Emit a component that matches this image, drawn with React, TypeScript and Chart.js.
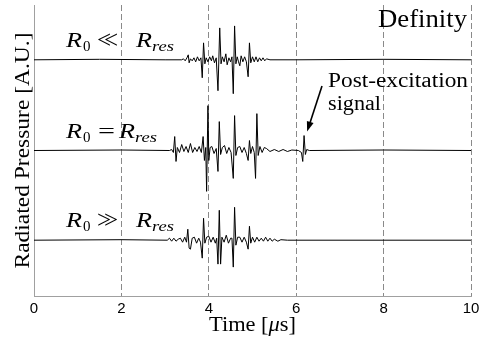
import React, { useEffect, useRef } from "react";
import { Chart, registerables } from "chart.js";
Chart.register(...registerables);

// ---- data ----
const xTickValues = [0, 2, 4, 6, 8, 10];
const traceLabels = ["<<", "=", ">>"];
const traceOffsets = [91, 0, -90];

const trace1Time = [0, 1.5, 3.0, 3.38, 3.42, 3.46, 3.50, 3.53, 3.55, 3.58, 3.62, 3.66, 3.70, 3.74, 3.78, 3.82, 3.85, 3.88, 3.91, 3.94, 3.98, 4.02, 4.06, 4.09, 4.13, 4.17, 4.21, 4.25, 4.28, 4.31, 4.35, 4.39, 4.42, 4.46, 4.50, 4.53, 4.56, 4.59, 4.62, 4.65, 4.68, 4.71, 4.74, 4.78, 4.82, 4.86, 4.90, 4.93, 4.96, 5.00, 5.04, 5.08, 5.12, 5.16, 5.20, 5.24, 5.28, 5.32, 5.40, 6.0, 8.0, 10];
const trace1Amp = [0, 0.5, 0, 0, 1, -1, 2, 5, -3, 1, -1, 2, -2, 3, -1, 2, -18, 17, -4, 2, -2, 3, -1, 4, -3, 2, -31, 32, -4, 3, -2, 6, -5, 2, -2, 3, -34, 34, -4, 3, -2, -6, 4, -2, 3, -2, -17, 17, -3, 3, -2, 3, -2, 2, -1, 2, -1, 1, 0, 0, 0.5, 0];

const trace2Time = [0, 2.0, 3.10, 3.15, 3.19, 3.22, 3.25, 3.28, 3.33, 3.38, 3.43, 3.48, 3.53, 3.58, 3.63, 3.68, 3.73, 3.78, 3.83, 3.87, 3.90, 3.93, 3.95, 3.98, 4.00, 4.03, 4.07, 4.12, 4.17, 4.21, 4.24, 4.27, 4.31, 4.36, 4.41, 4.46, 4.51, 4.56, 4.59, 4.62, 4.66, 4.71, 4.76, 4.81, 4.86, 4.90, 4.93, 4.96, 5.00, 5.04, 5.07, 5.10, 5.13, 5.17, 5.22, 5.27, 5.32, 5.40, 5.50, 5.60, 5.70, 5.80, 5.90, 6.05, 6.12, 6.15, 6.18, 6.21, 6.24, 6.30, 8.0, 10];
const trace2Amp = [0, 0.5, 0, 1, -2, 14, -11, 3, -2, 6, -1, 4, -2, 7, -2, 3, -1, 4, -2, 14, -10, 3, -41, 45, -10, 3, 4, -3, 2, -21, 29, -4, 3, 5, -3, 3, -2, -28, 35, -5, 3, 4, -2, 3, -3, -10, 10, -3, 4, -2, -28, 37, -5, 4, -2, 3, 2, -1, 1, -1, 1, -1, 0.5, 0, -2, -11, 15, -4, 1, 0, 0.5, 0];

const trace3Time = [0, 2.0, 3.05, 3.10, 3.15, 3.20, 3.25, 3.30, 3.35, 3.40, 3.45, 3.49, 3.52, 3.55, 3.58, 3.62, 3.67, 3.72, 3.77, 3.81, 3.85, 3.88, 3.91, 3.95, 4.00, 4.05, 4.10, 4.15, 4.18, 4.21, 4.24, 4.27, 4.30, 4.35, 4.40, 4.45, 4.50, 4.53, 4.56, 4.59, 4.62, 4.66, 4.71, 4.76, 4.81, 4.86, 4.90, 4.93, 4.96, 5.00, 5.05, 5.10, 5.15, 5.20, 5.25, 5.30, 5.35, 5.40, 5.45, 5.50, 5.58, 5.65, 5.80, 10];
const trace3Amp = [0, 0.5, 0, 2, -1, 2, -1, 1, 2, -2, 3, -2, 11, -8, -9, 2, 3, -3, 2, -2, -18, 22, -3, 3, 4, -2, 3, -3, 2, -24, 30, -24, 3, -2, 5, -3, 2, 2, -27, 33, -5, 3, 3, -2, 3, -2, -9, 14, -3, 3, -2, 3, -1, 2, -1, 3, -1, 2, -1, 1, -1, 0.5, 0, 0];

const traceTimes = [trace1Time, trace2Time, trace3Time];
const traceAmps = [trace1Amp, trace2Amp, trace3Amp];

const SERIF = '"Liberation Serif", "Times New Roman", serif';

function fitText(ctx: CanvasRenderingContext2D, text: string, x: number, y: number, width?: number) {
  if (!width) { ctx.fillText(text, x, y); return; }
  const w = ctx.measureText(text).width;
  ctx.save();
  ctx.translate(x, y);
  ctx.scale(width / w, 1);
  ctx.fillText(text, 0, 0);
  ctx.restore();
}

const annotPlugin = {
  id: "annot",
  afterDraw(chart: any) {
    const ctx: CanvasRenderingContext2D = chart.ctx;
    const xs = chart.scales.x;
    const ys = chart.scales.y;
    const area = chart.chartArea;
    ctx.save();
    ctx.fillStyle = "#000";
    ctx.textAlign = "left";
    ctx.textBaseline = "alphabetic";

    // Trace labels
    traceLabels.forEach((rel, i) => {
      const x0 = xs.getPixelForValue(0.73);
      const yb = ys.getPixelForValue(traceOffsets[i]) - 13;
      ctx.font = `italic 22px ${SERIF}`;
      fitText(ctx, "R", x0, yb, 16);
      ctx.font = `15px ${SERIF}`;
      ctx.fillText("0", x0 + 17, yb + 4);
      if (rel === "=") {
        ctx.font = `22px ${SERIF}`;
        fitText(ctx, rel, x0 + 32, yb, 17);
      } else {
        const ch = rel.charAt(0);
        ctx.font = `25px ${SERIF}`;
        ctx.fillText(ch, x0 + 31, yb + 1);
        ctx.fillText(ch, x0 + 38, yb + 1);
      }
      const r2 = rel === "=" ? x0 + 53 : x0 + 70;
      ctx.font = `italic 22px ${SERIF}`;
      fitText(ctx, "R", r2, yb, 16);
      ctx.font = `italic 15px ${SERIF}`;
      fitText(ctx, "res", r2 + 16, yb + 4, 22);
    });

    // Definity
    ctx.font = `25px ${SERIF}`;
    fitText(ctx, "Definity", 378, 27, 89);

    // Post-excitation annotation
    ctx.font = `20px ${SERIF}`;
    fitText(ctx, "Post-excitation", 328, 87, 140);
    fitText(ctx, "signal", 328, 110, 53);

    // arrow
    const tipX = xs.getPixelForValue(6.25);
    const tipY = ys.getPixelForValue(traceOffsets[1]) - 19;
    const sx = 322, sy = 86;
    const ang = Math.atan2(tipY - sy, tipX - sx);
    ctx.strokeStyle = "#000";
    ctx.lineWidth = 1.6;
    ctx.beginPath();
    ctx.moveTo(sx, sy);
    ctx.lineTo(tipX - 8 * Math.cos(ang), tipY - 8 * Math.sin(ang));
    ctx.stroke();
    ctx.beginPath();
    ctx.moveTo(tipX, tipY);
    ctx.lineTo(tipX - 10 * Math.cos(ang) + 3.5 * Math.sin(ang), tipY - 10 * Math.sin(ang) - 3.5 * Math.cos(ang));
    ctx.lineTo(tipX - 10 * Math.cos(ang) - 3.5 * Math.sin(ang), tipY - 10 * Math.sin(ang) + 3.5 * Math.cos(ang));
    ctx.closePath();
    ctx.fill();

    // Axis titles
    const cx = (area.left + area.right) / 2;
    const part1 = "Time [";
    const part2 = "μ";
    const part3 = "s]";
    ctx.textAlign = "left";
    ctx.font = `21px ${SERIF}`;
    const w1 = ctx.measureText(part1).width;
    ctx.font = `italic 21px ${SERIF}`;
    const w2 = ctx.measureText(part2).width;
    ctx.font = `21px ${SERIF}`;
    const w3 = ctx.measureText(part3).width;
    const total = w1 + w2 + w3;
    const sc = 87 / total;
    ctx.save();
    ctx.translate(cx - 87 / 2, 331);
    ctx.scale(sc, 1);
    ctx.fillText(part1, 0, 0);
    ctx.font = `italic 21px ${SERIF}`;
    ctx.fillText(part2, w1, 0);
    ctx.font = `21px ${SERIF}`;
    ctx.fillText(part3, w1 + w2, 0);
    ctx.restore();

    // Radiated Pressure [A.U.]
    ctx.save();
    ctx.translate(29, (area.top + area.bottom) / 2);
    ctx.rotate(-Math.PI / 2);
    ctx.font = `21px ${SERIF}`;
    const yt = "Radiated Pressure [A.U.]";
    const yw = ctx.measureText(yt).width;
    ctx.scale(236 / yw, 1);
    ctx.textAlign = "center";
    ctx.fillText(yt, 0, 0);
    ctx.restore();

    ctx.restore();
  },
};

export default function App() {
  const ref = useRef<HTMLCanvasElement | null>(null);
  useEffect(() => {
    if (!ref.current) return;
    const datasets = traceTimes.map((times, i) => ({
      data: times.map((t, j) => ({ x: t, y: traceAmps[i][j] + traceOffsets[i] })),
      borderColor: "#000",
      borderWidth: 1,
      pointRadius: 0,
      tension: 0,
      fill: false,
    }));
    const chart = new Chart(ref.current, {
      type: "line",
      data: { datasets },
      options: {
        responsive: false,
        animation: false,
        devicePixelRatio: 1,
        layout: { padding: { top: 5, right: 0, left: 0, bottom: 0 } },
        plugins: { legend: { display: false }, tooltip: { enabled: false } },
        scales: {
          x: {
            type: "linear",
            min: 0,
            max: 10,
            afterBuildTicks: (s: any) => {
              s.ticks = xTickValues.map((v) => ({ value: v }));
            },
            ticks: {
              color: "#000",
              font: { family: '"Liberation Sans", Arial, sans-serif', size: 15 },
              padding: 4,
              maxRotation: 0,
              autoSkip: false,
            },
            grid: { color: "#8a8a8a", drawTicks: false, lineWidth: 1 },
            border: { display: true, color: "#a0a0a0", dash: [6, 3] },
            afterFit: (s: any) => {
              s.height = 41;
              s.paddingRight = 8;
            },
          },
          y: {
            type: "linear",
            min: -146,
            max: 146,
            ticks: { display: false },
            grid: { display: false },
            border: { display: true, color: "#a0a0a0" },
            afterFit: (s: any) => {
              s.width = 34;
            },
          },
        },
      } as any,
      plugins: [annotPlugin],
    });
    return () => chart.destroy();
  }, []);
  return (
    <div style={{ position: "absolute", left: 0, top: 0, width: 479, height: 337, background: "#fff" }}>
      <canvas ref={ref} width={479} height={337} />
    </div>
  );
}
